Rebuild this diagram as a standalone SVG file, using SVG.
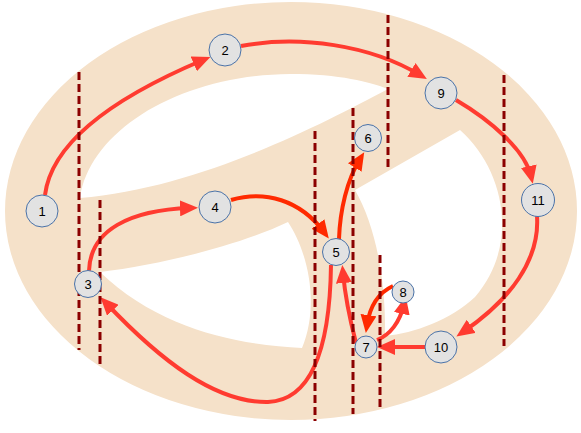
<svg xmlns="http://www.w3.org/2000/svg" width="581" height="433" viewBox="0 0 581 433">
<defs>
<style>
.bg{fill:#f5e1c9;fill-rule:evenodd;stroke:none}
.dash{stroke:#8b0000;stroke-width:3;stroke-dasharray:8 4;fill:none}
.e{fill:none;stroke:#ff3b30;stroke-width:4}
.e2{fill:none;stroke:#ff2a00;stroke-width:4}
.node circle{fill:#e2e2e2;stroke:#4a72a8;stroke-width:1}
.node text{font-family:"Liberation Sans",Arial,sans-serif;font-size:13px;fill:#000;text-anchor:middle;dominant-baseline:central}
</style>
<marker id="a1" viewBox="0 0 18 16" markerWidth="18" markerHeight="16" refX="10" refY="8" orient="auto" markerUnits="userSpaceOnUse"><path d="M0,0 L18,8 L0,16 z" fill="#ff3b30"/></marker>
<marker id="a2" viewBox="0 0 18 16" markerWidth="18" markerHeight="16" refX="10" refY="8" orient="auto" markerUnits="userSpaceOnUse"><path d="M0,0 L18,8 L0,16 z" fill="#ff2a00"/></marker>
</defs>
<path class="bg" d="M5 211 A286 209 0 1 0 577 211 A286 209 0 1 0 5 211 Z
M80 198 C90 130 180 75 290 74 C340 74 370 82 388 89 C320 125 200 188 80 198 Z
M355 190 L460 130 C505 170 520 245 475 297 C450 320 415 333 385 336 C386 285 377 228 355 190 Z
M100 272 C160 265 240 245 288 222 C308 252 320 305 302 348 C240 345 160 330 100 272 Z"/>
<g id="connectors">
<path class="e" d="M45 195 C52 140 120 95 203 60" marker-end="url(#a1)"/>
<path class="e" d="M241 46 C300 35 370 45 420 75" marker-end="url(#a1)"/>
<path class="e" d="M456 100 C490 120 525 150 531 176" marker-end="url(#a1)"/>
<path class="e" d="M537 216 C540 260 510 300 463 332" marker-end="url(#a1)"/>
<path class="e" d="M425 347 L385 347" marker-end="url(#a1)"/>
<path class="e" d="M377 340 C390 335 400 322 404 304" marker-end="url(#a1)"/>
<path class="e2" d="M393 286 C380 292 370 305 367 325" marker-end="url(#a2)"/>
<path class="e" d="M356 343 C350 320 345 295 343 273" marker-end="url(#a1)"/>
<path class="e" d="M331 265 C330 340 315 400 268 402 C215 403 160 360 106 303" marker-end="url(#a1)"/>
<path class="e" d="M89 271 C90 230 130 210 190 208" marker-end="url(#a1)"/>
<path class="e2" d="M231 200 C265 190 300 200 324 232" marker-end="url(#a2)"/>
<path class="e2" d="M339 239 C340 210 347 180 360 159" marker-end="url(#a2)"/>
</g>
<g id="dividers">
<line class="dash" x1="79" y1="72" x2="79" y2="350"/>
<line class="dash" x1="100" y1="200" x2="100" y2="366"/>
<line class="dash" x1="315" y1="131" x2="315" y2="421"/>
<line class="dash" x1="353" y1="108" x2="353" y2="414"/>
<line class="dash" x1="388" y1="15" x2="388" y2="170"/>
<line class="dash" x1="380" y1="255" x2="380" y2="411"/>
<line class="dash" x1="504" y1="75" x2="504" y2="346"/>
</g>
<g id="n1" class="node"><circle cx="42" cy="211" r="16"/><text x="42" y="211">1</text></g>
<g id="n2" class="node"><circle cx="225" cy="50" r="16"/><text x="225" y="50">2</text></g>
<g id="n3" class="node"><circle cx="88" cy="284" r="13.5"/><text x="88" y="284">3</text></g>
<g id="n4" class="node"><circle cx="215" cy="207" r="16"/><text x="215" y="207">4</text></g>
<g id="n5" class="node"><circle cx="336" cy="252" r="13.5"/><text x="336" y="252">5</text></g>
<g id="n6" class="node"><circle cx="368" cy="138" r="13.5"/><text x="368" y="138">6</text></g>
<g id="n7" class="node"><circle cx="366" cy="347" r="11"/><text x="366" y="347">7</text></g>
<g id="n8" class="node"><circle cx="403" cy="292" r="11"/><text x="403" y="292">8</text></g>
<g id="n9" class="node"><circle cx="441" cy="93" r="16"/><text x="441" y="93">9</text></g>
<g id="n10" class="node"><circle cx="441" cy="347" r="16"/><text x="441" y="347">10</text></g>
<g id="n11" class="node"><circle cx="538" cy="200" r="16.5"/><text x="538" y="200">11</text></g>
</svg>
